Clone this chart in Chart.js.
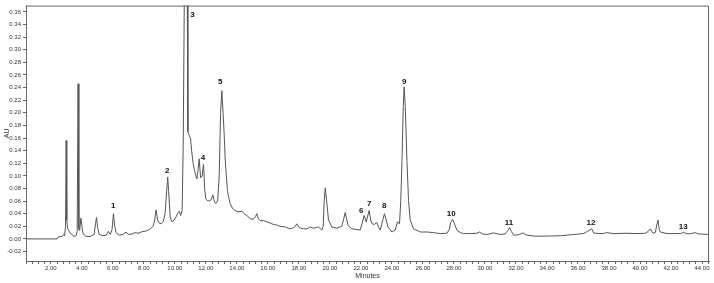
<!DOCTYPE html>
<html>
<head>
<meta charset="utf-8">
<script src="https://cdn.jsdelivr.net/npm/chart.js@4"></script>
<style>
  html, body { margin: 0; padding: 0; background: #fff; }
  canvas { display: block; }
</style>
</head>
<body>
<canvas id="chart" width="714" height="283"></canvas>
<script>
// retention time (min) and absorbance (AU)
const retentionTime = [
  0.41, 2.41, 2.47, 2.73, 2.83, 2.89, 2.95, 2.99, 3.03, 3.08, 3.25, 3.50, 3.63, 3.70, 3.76, 3.81, 3.86, 3.94,
  4.02, 4.08, 4.28, 4.54, 4.79, 4.89, 4.95, 5.02, 5.12, 5.37, 5.57, 5.72, 5.83, 5.95, 6.04, 6.12, 6.21, 6.41,
  6.66, 6.86, 6.99, 7.25, 7.44, 7.63, 7.83, 8.02, 8.21, 8.41, 8.60, 8.70, 8.79, 8.89, 8.99, 9.12, 9.25, 9.37,
  9.47, 9.54, 9.60, 9.70, 9.81, 9.95, 10.08, 10.21, 10.30, 10.37, 10.47, 10.54, 10.63, 10.68, 10.79, 10.84,
  10.92, 11.02, 11.08, 11.18, 11.26, 11.42, 11.50, 11.57, 11.66, 11.76, 11.85, 11.92, 11.99, 12.08, 12.21,
  12.34, 12.45, 12.54, 12.63, 12.76, 12.86, 12.95, 13.03, 13.11, 13.18, 13.25, 13.31, 13.39, 13.47, 13.57,
  13.73, 13.89, 14.08, 14.32, 14.47, 14.65, 14.86, 15.05, 15.21, 15.29, 15.37, 15.50, 15.70, 15.94, 16.15,
  16.36, 16.57, 16.79, 17.12, 17.44, 17.70, 17.87, 18.02, 18.28, 18.52, 18.73, 18.94, 19.12, 19.26, 19.48,
  19.57, 19.63, 19.70, 19.79, 19.91, 20.13, 20.45, 20.77, 20.89, 20.99, 21.07, 21.18, 21.42, 21.74, 21.95,
  22.08, 22.21, 22.34, 22.53, 22.63, 22.72, 22.86, 23.03, 23.15, 23.25, 23.41, 23.52, 23.63, 23.74, 24.00,
  24.21, 24.36, 24.49, 24.57, 24.65, 24.73, 24.79, 24.86, 24.97, 25.07, 25.18, 25.39, 25.83, 26.26, 26.67,
  27.12, 27.55, 27.70, 27.79, 27.91, 28.02, 28.19, 28.41, 28.62, 29.05, 29.48, 29.65, 29.83, 30.13, 30.56,
  30.99, 31.31, 31.47, 31.59, 31.70, 31.85, 32.15, 32.43, 32.71, 33.25, 34.00, 34.86, 35.72, 36.36, 36.60,
  36.89, 37.01, 37.31, 37.65, 37.83, 38.30, 39.16, 39.81, 40.34, 40.53, 40.66, 40.84, 40.99, 41.08, 41.16,
  41.24, 41.31, 41.74, 42.60, 42.81, 42.98, 43.24, 43.56, 43.75, 44.45
];
const absorbance = [
  0.000, 0.000, 0.003, 0.004, 0.007, 0.005, 0.020, 0.156, 0.030, 0.017, 0.009, 0.004, 0.005, 0.012, 0.246, 0.016, 0.013, 0.033,
  0.018, 0.008, 0.004, 0.004, 0.007, 0.025, 0.034, 0.018, 0.007, 0.005, 0.006, 0.012, 0.007, 0.015, 0.040, 0.020, 0.010, 0.006,
  0.007, 0.011, 0.007, 0.008, 0.010, 0.009, 0.011, 0.012, 0.013, 0.016, 0.020, 0.030, 0.046, 0.030, 0.025, 0.024, 0.027, 0.040,
  0.075, 0.098, 0.075, 0.035, 0.027, 0.030, 0.035, 0.042, 0.044, 0.037, 0.045, 0.150, 0.450, 0.600, 0.450, 0.170,
  0.165, 0.158, 0.140, 0.120, 0.109, 0.095, 0.110, 0.127, 0.097, 0.100, 0.118, 0.080, 0.064, 0.061, 0.060,
  0.062, 0.070, 0.060, 0.056, 0.060, 0.100, 0.200, 0.235, 0.200, 0.167, 0.125, 0.104, 0.077, 0.066, 0.056,
  0.048, 0.045, 0.043, 0.044, 0.040, 0.037, 0.032, 0.031, 0.036, 0.040, 0.033, 0.029, 0.029, 0.027, 0.025,
  0.023, 0.022, 0.020, 0.019, 0.016, 0.018, 0.024, 0.018, 0.016, 0.016, 0.019, 0.017, 0.018, 0.019, 0.014,
  0.020, 0.060, 0.081, 0.060, 0.030, 0.019, 0.017, 0.020, 0.032, 0.042, 0.032, 0.021, 0.016, 0.015, 0.014,
  0.025, 0.037, 0.027, 0.045, 0.030, 0.024, 0.023, 0.026, 0.018, 0.014, 0.030, 0.040, 0.030, 0.019, 0.011,
  0.014, 0.027, 0.024, 0.060, 0.124, 0.210, 0.241, 0.210, 0.124, 0.061, 0.030, 0.016, 0.011, 0.011, 0.010,
  0.0085, 0.009, 0.015, 0.026, 0.031, 0.025, 0.014, 0.010, 0.0085, 0.0085, 0.009, 0.011, 0.008, 0.007, 0.0095,
  0.007, 0.008, 0.013, 0.018, 0.012, 0.006, 0.0065, 0.0095, 0.006, 0.0043, 0.0045, 0.005, 0.007, 0.0085, 0.012,
  0.016, 0.0095, 0.0085, 0.0085, 0.010, 0.0085, 0.009, 0.0085, 0.009, 0.012, 0.016, 0.009, 0.010, 0.022, 0.030,
  0.015, 0.011, 0.0085, 0.0085, 0.0105, 0.0085, 0.008, 0.010, 0.008, 0.007
];

// numbered peak labels: name, time, label height (AU)
const peakNames = ['1', '2', '3', '4', '5', '6', '7', '8', '9', '10', '11', '12', '13'];
const peakTimes = [6.02, 9.51, 11.13, 11.82, 12.92, 22.02, 22.54, 23.51, 24.79, 27.83, 31.55, 36.84, 42.79];
const peakLabelAU = [0.053, 0.108, 0.355, 0.129, 0.249, 0.044, 0.056, 0.053, 0.249, 0.040, 0.026, 0.025, 0.019];

const font = "'Liberation Sans', Arial, sans-serif";
const axisGray = '#666';

const peakLabelPlugin = {
  id: 'peakLabels',
  afterDatasetsDraw(chart) {
    const { ctx, chartArea, scales } = chart;
    ctx.save();
    // top and right frame lines
    ctx.strokeStyle = axisGray;
    ctx.lineWidth = 1;
    ctx.beginPath();
    ctx.moveTo(chartArea.left, chartArea.top + 0.5);
    ctx.lineTo(chartArea.right - 0.5, chartArea.top + 0.5);
    ctx.lineTo(chartArea.right - 0.5, chartArea.bottom);
    ctx.stroke();

    ctx.fillStyle = '#111';
    ctx.font = 'bold 8px ' + font;
    ctx.textAlign = 'center';
    ctx.textBaseline = 'middle';
    peakNames.forEach((name, i) => {
      ctx.fillText(name, scales.x.getPixelForValue(peakTimes[i]), scales.y.getPixelForValue(peakLabelAU[i]));
    });
    ctx.restore();
  }
};

new Chart(document.getElementById('chart').getContext('2d'), {
  type: 'line',
  data: {
    datasets: [{
      data: retentionTime.map((t, i) => ({ x: t, y: absorbance[i] })),
      borderColor: '#555',
      borderWidth: 1,
      pointRadius: 0,
      tension: 0,
      fill: false
    }]
  },
  options: {
    responsive: false,
    animation: false,
    layout: { padding: { top: 5, right: 5, left: 0, bottom: 0 } },
    plugins: { legend: { display: false }, tooltip: { enabled: false } },
    scales: {
      x: {
        type: 'linear',
        min: 0.4,
        max: 44.45,
        afterFit: (s) => { s.height = 22; },
        border: { color: axisGray },
        grid: { drawOnChartArea: false, tickLength: 3, color: axisGray },
        ticks: {
          stepSize: 0.4,
          autoSkip: false,
          maxRotation: 0,
          includeBounds: false,
          padding: 1,
          color: '#333',
          font: { family: font, size: 6 },
          callback: (v) => {
            const r = Math.round(v / 2) * 2;
            return Math.abs(v - r) < 1e-6 && r > 0 ? r.toFixed(2) : '';
          }
        },
        title: { display: true, text: 'Minutes', color: '#333', font: { family: font, size: 7 }, padding: { top: 0, bottom: 3 } }
      },
      y: {
        min: -0.035,
        max: 0.37,
        afterFit: (s) => { s.width = 26; },
        border: { color: axisGray },
        grid: { drawOnChartArea: false, tickLength: 3, color: axisGray },
        ticks: {
          stepSize: 0.02,
          autoSkip: false,
          includeBounds: false,
          padding: 2,
          color: '#333',
          font: { family: font, size: 6 },
          callback: (v) => (Math.abs(v) < 1e-9 ? 0 : v).toFixed(2)
        },
        title: { display: true, text: 'AU', color: '#333', font: { family: font, size: 7 }, padding: { top: 3, bottom: 0 } }
      }
    }
  },
  plugins: [peakLabelPlugin]
});
</script>
</body>
</html>
